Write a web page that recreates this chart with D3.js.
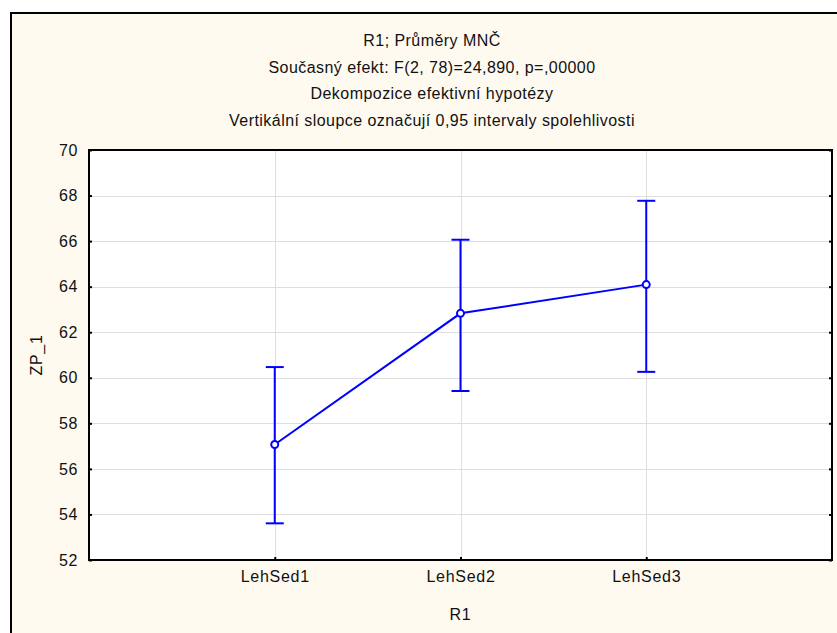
<!DOCTYPE html>
<html>
<head>
<meta charset="utf-8">
<script src="https://cdn.jsdelivr.net/npm/d3@7"></script>
<style>
  html, body { margin: 0; padding: 0; background: #fff; }
  svg text { font-family: "Liberation Sans", Arial, sans-serif; fill: #111; }
</style>
</head>
<body>
<div id="chart"></div>
<script>
const categories = ["LehSed1", "LehSed2", "LehSed3"];
const means = [57.07, 62.83, 64.09];
const lower = [53.61, 59.42, 60.26];
const upper = [60.47, 66.06, 67.77];
const yTicks = [52, 54, 56, 58, 60, 62, 64, 66, 68, 70];
const titles = [
  "R1; Průměry MNČ",
  "Současný efekt: F(2, 78)=24,890, p=,00000",
  "Dekompozice efektivní hypotézy",
  "Vertikální sloupce označují 0,95 intervaly spolehlivosti"
];

const width = 837, height = 633;
const plot = { left: 89, top: 150, right: 832, bottom: 560 };
const font = "Liberation Sans, Arial, sans-serif";

const svg = d3.select("#chart").append("svg").attr("width", width).attr("height", height);

// window frame
svg.append("rect").attr("x", 0).attr("y", 0).attr("width", width).attr("height", height).attr("fill", "#fff");
svg.append("rect").attr("x", 11).attr("y", 13).attr("width", width + 20).attr("height", height + 20)
  .attr("fill", "#fffaef").attr("stroke", "#000").attr("stroke-width", 2);

// titles
svg.append("g").selectAll("text").data(titles).enter().append("text")
  .attr("x", 432).attr("y", (d, i) => 46 + i * 26.7)
  .attr("text-anchor", "middle").attr("font-size", 16).attr("letter-spacing", 0.45)
  .text(d => d);

const x = d3.scalePoint().domain(["", ...categories, " "]).range([plot.left, plot.right]);
const y = d3.scaleLinear().domain([52, 70]).range([plot.bottom, plot.top]);

svg.append("rect").attr("x", plot.left).attr("y", plot.top)
  .attr("width", plot.right - plot.left).attr("height", plot.bottom - plot.top).attr("fill", "#fff");

// gridlines
svg.append("g").attr("stroke", "#dedede").attr("stroke-width", 1).selectAll("line")
  .data(yTicks.slice(1, -1)).enter().append("line")
  .attr("x1", plot.left).attr("x2", plot.right)
  .attr("y1", d => Math.round(y(d)) + 0.5).attr("y2", d => Math.round(y(d)) + 0.5);
svg.append("g").attr("stroke", "#dedede").attr("stroke-width", 1).selectAll("line")
  .data(categories).enter().append("line")
  .attr("x1", d => Math.round(x(d)) + 0.5).attr("x2", d => Math.round(x(d)) + 0.5)
  .attr("y1", plot.top).attr("y2", plot.bottom);

// axes
const yAxis = svg.append("g").attr("transform", `translate(${plot.left},0)`)
  .call(d3.axisLeft(y).tickValues(yTicks).tickSizeInner(-3).tickSizeOuter(0).tickPadding(11));
yAxis.select(".domain").remove();
yAxis.selectAll("line").attr("stroke", "#000").attr("stroke-width", 2);
yAxis.selectAll("text").attr("font-size", 16).attr("letter-spacing", 0.6)
  .attr("font-family", font).attr("fill", "#111");

const yAxisR = svg.append("g").attr("transform", `translate(${plot.right},0)`)
  .call(d3.axisRight(y).tickValues(yTicks).tickSizeInner(-3).tickSizeOuter(0).tickFormat(""));
yAxisR.select(".domain").remove();
yAxisR.selectAll("line").attr("stroke", "#000").attr("stroke-width", 2);

const xAxis = svg.append("g").attr("transform", `translate(0,${plot.bottom})`)
  .call(d3.axisBottom(x).tickValues(categories).tickSizeInner(-3).tickSizeOuter(0).tickPadding(11));
xAxis.select(".domain").remove();
xAxis.selectAll("line").attr("stroke", "#000").attr("stroke-width", 2);
xAxis.selectAll("text").attr("font-size", 16).attr("letter-spacing", 0.7)
  .attr("font-family", font).attr("fill", "#111");

svg.append("rect").attr("x", plot.left).attr("y", plot.top)
  .attr("width", plot.right - plot.left).attr("height", plot.bottom - plot.top)
  .attr("fill", "none").attr("stroke", "#000").attr("stroke-width", 2);

// axis titles
svg.append("text").attr("x", x("LehSed2")).attr("y", 620).attr("text-anchor", "middle")
  .attr("font-size", 16).attr("letter-spacing", 0.7).text("R1");
svg.append("text").attr("transform", `translate(42,${(plot.top + plot.bottom) / 2}) rotate(-90)`)
  .attr("text-anchor", "middle").attr("font-size", 16).attr("letter-spacing", 0.7).text("ZP_1");

// error bars
const data = categories.map((c, i) => ({ c, m: means[i], lo: lower[i], hi: upper[i] }));
const eb = svg.append("g").attr("stroke", "#0000ff").attr("stroke-width", 2).attr("fill", "none");
eb.selectAll(".v").data(data).enter().append("line")
  .attr("x1", d => x(d.c)).attr("x2", d => x(d.c)).attr("y1", d => y(d.lo)).attr("y2", d => y(d.hi));
eb.selectAll(".lo").data(data).enter().append("line")
  .attr("x1", d => x(d.c) - 9).attr("x2", d => x(d.c) + 9).attr("y1", d => y(d.lo)).attr("y2", d => y(d.lo));
eb.selectAll(".hi").data(data).enter().append("line")
  .attr("x1", d => x(d.c) - 9).attr("x2", d => x(d.c) + 9).attr("y1", d => y(d.hi)).attr("y2", d => y(d.hi));

// mean line
svg.append("path").datum(data)
  .attr("d", d3.line().x(d => x(d.c)).y(d => y(d.m)))
  .attr("fill", "none").attr("stroke", "#0000ff").attr("stroke-width", 2);
svg.append("g").selectAll("circle").data(data).enter().append("circle")
  .attr("cx", d => x(d.c)).attr("cy", d => y(d.m)).attr("r", 3.5)
  .attr("fill", "#fff").attr("stroke", "#0000ff").attr("stroke-width", 2);
</script>
</body>
</html>
